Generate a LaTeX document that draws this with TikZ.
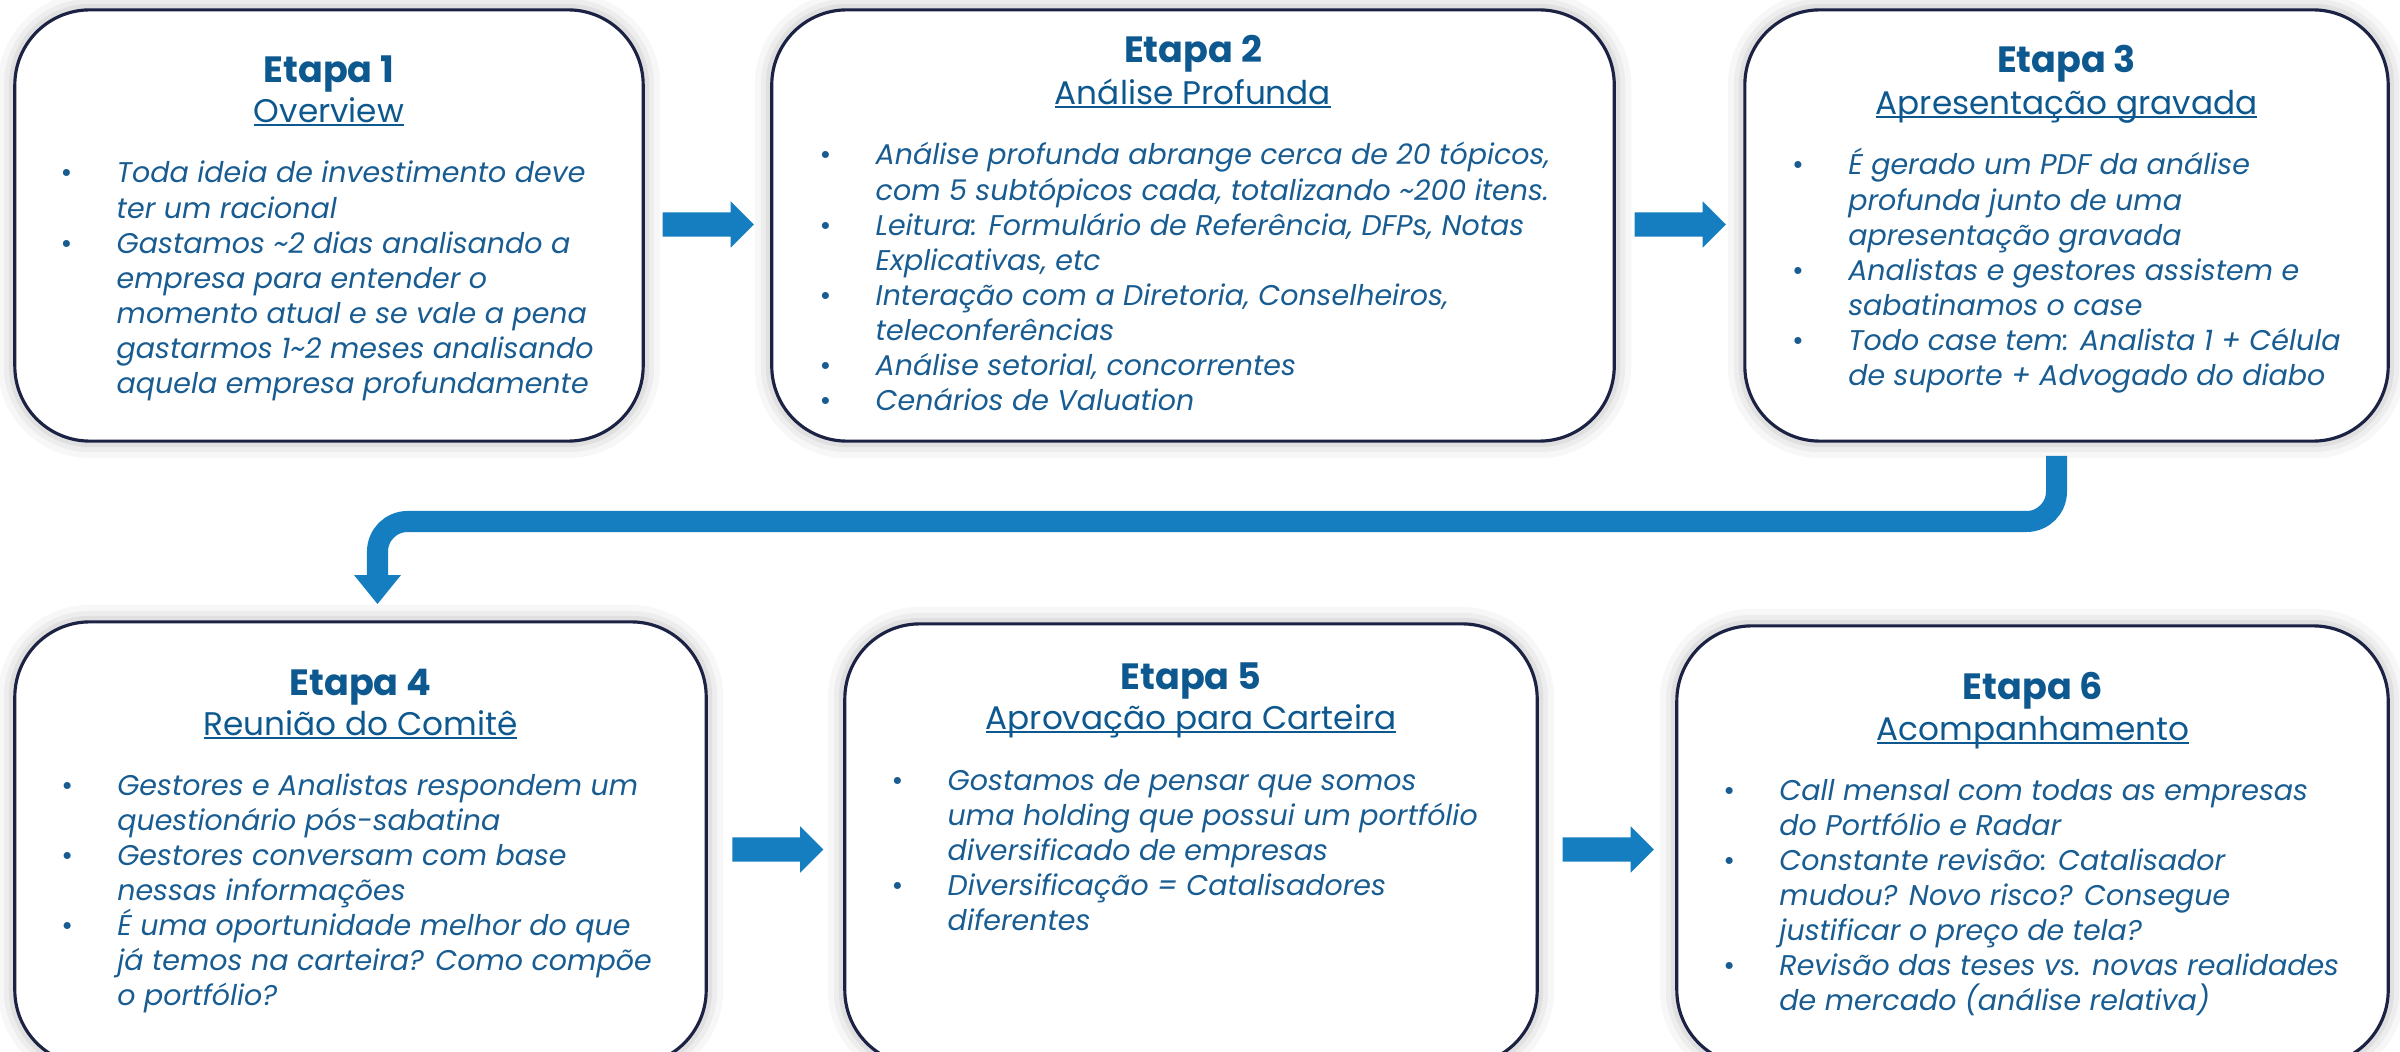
\documentclass[tikz,border=0pt]{standalone}
\usepackage{fontspec}
\setmainfont{Poppins}
\usetikzlibrary{shapes.arrows}
\definecolor{arrowblue}{RGB}{21,126,192}
\definecolor{titleblue}{RGB}{12,88,143}
\definecolor{bodyblue}{RGB}{24,92,145}
\definecolor{navy}{RGB}{28,34,68}
\newsavebox\ulbox
\newcommand\ulx[1]{\sbox\ulbox{#1}\rlap{\usebox\ulbox}\rule[-0.035cm]{\wd\ulbox}{0.02cm}}
\newcommand\bl[1]{\hbox{\makebox[0.56cm][l]{\upshape\textbullet}#1}}
\newcommand\cl[1]{\hbox{\hspace*{0.56cm}#1}}
\newcommand\bodylines[1]{\vtop{\setlength{\lineskiplimit}{-100pt}#1}}
\tikzset{
  stagebox/.style={draw=navy, line width=0.9pt, fill=white, rounded corners=0.75cm,
    inner sep=0pt,
    preaction={draw=black, line width=0.34cm, opacity=0.03},
    preaction={draw=black, line width=0.22cm, opacity=0.04},
    preaction={draw=black, line width=0.12cm, opacity=0.05}},
  ttl/.style={anchor=base, inner sep=0pt, text=titleblue, font=\fontsize{10.4pt}{12pt}\selectfont\bfseries},
  sub/.style={anchor=base, inner sep=0pt, text=titleblue, font=\fontsize{9.3pt}{11pt}\selectfont},
  body/.style={anchor=base west, inner sep=0pt, text=bodyblue,
    font={\itshape\fontsize{8.1pt}{9.96pt}\selectfont}},
  blockarrow/.style={single arrow, fill=arrowblue, draw=none, anchor=tail,
    inner xsep=0pt, inner ysep=0.115cm, single arrow head extend=0.11cm,
    single arrow head indent=0pt, minimum height=0.91cm},
  conn/.style={draw=arrowblue, line width=0.21cm, rounded corners=0.3cm}
}
\begin{document}
\begin{tikzpicture}[x=0.01cm, y=-0.01cm]
\useasboundingbox (0,0) rectangle (2400,1052);
\clip (0,0) rectangle (2400,1052);
\fill[white] (0,0) rectangle (2400,1052);

% boxes
\node[stagebox, minimum width=6.28cm, minimum height=4.31cm] (s1) at (329,225.5) {};
\node[stagebox, minimum width=8.42cm, minimum height=4.31cm] (s2) at (1193,225.5) {};
\node[stagebox, minimum width=6.43cm, minimum height=4.31cm] (s3) at (2066.5,225.5) {};
\node[stagebox, minimum width=6.91cm, minimum height=4.43cm] (s4) at (360.5,843.5) {};
\node[stagebox, minimum width=6.92cm, minimum height=4.41cm] (s5) at (1191,844.5) {};
\node[stagebox, minimum width=7.11cm, minimum height=4.39cm] (s6) at (2032.5,845.5) {};

% block arrows
\node[blockarrow] (a12) at (662,224.5) {};
\node[blockarrow] (a23) at (1634,224.5) {};
\node[blockarrow] (a45) at (731.6,849.5) {};
\node[blockarrow] (a56) at (1562,849.5) {};

% elbow connector
\coordinate (e1) at (2056.5,456);
\coordinate (e2) at (2056.5,521.5);
\coordinate (e3) at (377.5,521.5);
\coordinate (e4) at (377.5,576);
\draw[conn] (e1) -- (e2) -- (e3) -- (e4);
\fill[arrowblue] (354,575) -- (401,575) -- (377.5,604) -- cycle;

% Etapa 1
\node[ttl] (t1) at (329,83) {Etapa 1};
\node[sub] (u1) at (329,123) {\ulx{Overview}};
\node[body] (b1) at (60,183) {\bodylines{%
\bl{Toda ideia de investimento deve}
\cl{ter um racional}
\bl{Gastamos \textasciitilde2 dias analisando a}
\cl{empresa para entender o}
\cl{momento atual e se vale a pena}
\cl{gastarmos 1\textasciitilde2 meses analisando}
\cl{aquela empresa profundamente}}};

% Etapa 2
\node[ttl] (t2) at (1193,63) {Etapa 2};
\node[sub] (u2) at (1193,105) {\ulx{Análise Profunda}};
\node[body] (b2) at (819,165) {\bodylines{%
\bl{Análise profunda abrange cerca de 20 tópicos,}
\cl{com 5 subtópicos cada, totalizando \textasciitilde200 itens.}
\bl{Leitura: Formulário de Referência, DFPs, Notas}
\cl{Explicativas, etc}
\bl{Interação com a Diretoria, Conselheiros,}
\cl{teleconferências}
\bl{Análise setorial, concorrentes}
\bl{Cenários de Valuation}}};

% Etapa 3
\node[ttl] (t3) at (2066.5,73) {Etapa 3};
\node[sub] (u3) at (2066.5,115) {\ulx{Apresentação gravada}};
\node[body] (b3) at (1791.5,175) {\bodylines{%
\bl{É gerado um PDF da análise}
\cl{profunda junto de uma}
\cl{apresentação gravada}
\bl{Analistas e gestores assistem e}
\cl{sabatinamos o case}
\bl{Todo case tem: Analista 1 + Célula}
\cl{de suporte + Advogado do diabo}}};

% Etapa 4
\node[ttl] (t4) at (360.5,695) {Etapa 4};
\node[sub] (u4) at (360.5,735) {\ulx{Reunião do Comitê}};
\node[body] (b4) at (60.6,795) {\bodylines{%
\bl{Gestores e Analistas respondem um}
\cl{questionário pós-sabatina}
\bl{Gestores conversam com base}
\cl{nessas informações}
\bl{É uma oportunidade melhor do que}
\cl{já temos na carteira? Como compõe}
\cl{o portfólio?}}};

% Etapa 5
\node[ttl] (t5) at (1191,689) {Etapa 5};
\node[sub] (u5) at (1191,729) {\ulx{Aprovação para Carteira}};
\node[body] (b5) at (891,790) {\bodylines{%
\bl{Gostamos de pensar que somos}
\cl{uma holding que possui um portfólio}
\cl{diversificado de empresas}
\bl{Diversificação = Catalisadores}
\cl{diferentes}}};

% Etapa 6
\node[ttl] (t6) at (2033,699) {Etapa 6};
\node[sub] (u6) at (2033,740) {\ulx{Acompanhamento}};
\node[body] (b6) at (1722.7,800) {\bodylines{%
\bl{Call mensal com todas as empresas}
\cl{do Portfólio e Radar}
\bl{Constante revisão: Catalisador}
\cl{mudou? Novo risco? Consegue}
\cl{justificar o preço de tela?}
\bl{Revisão das teses vs. novas realidades}
\cl{de mercado (análise relativa)}}};
\end{tikzpicture}
\end{document}
